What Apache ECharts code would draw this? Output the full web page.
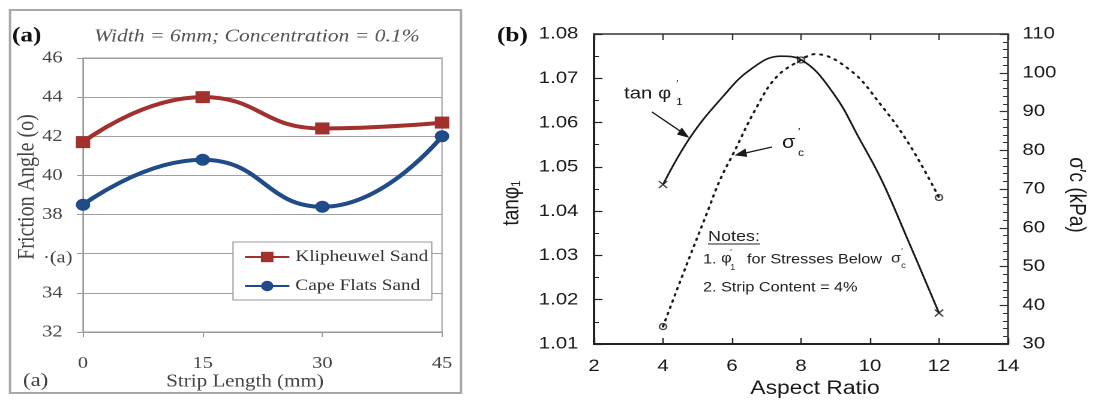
<!DOCTYPE html>
<html>
<head>
<meta charset="utf-8">
<script src="https://cdn.jsdelivr.net/npm/echarts@6/dist/echarts.min.js"></script>
<style>
html,body{margin:0;padding:0;background:#fff;overflow:hidden;}
#wrap{width:1099px;height:401px;overflow:hidden;}
#c{width:916px;height:401px;transform:scaleX(1.2);transform-origin:0 0;}
</style>
</head>
<body>
<div id="wrap"><div id="c"></div></div>
<script>
// ---------- Panel (a) data ----------
const stripLengths = ['0', '15', '30', '45'];
const klipheuwelSand = [41.7, 44.0, 42.4, 42.7];
const capeFlatsSand = [38.5, 40.8, 38.4, 42.0];
const seriesNamesA = ['Klipheuwel Sand', 'Cape Flats Sand'];

// ---------- Panel (b) data ----------
const tanPhiCurve = [[4, 1.046], [4.8, 1.0568], [5.74, 1.0659], [6.52, 1.0719], [7.4, 1.075], [8, 1.0742],
  [8.93, 1.0667], [9.71, 1.0561], [10.35, 1.0468], [11.07, 1.034], [12, 1.017]];
const tanPhiPoints = [[4, 1.046], [8, 1.0742], [12, 1.017]];
const sigmaCurve = [[4, 34.5], [4.59, 48.3], [5.27, 63.7], [5.65, 72.3], [6.04, 79.2], [6.72, 91.2], [7.3, 99.0],
  [8, 103.3], [8.41, 104.8], [9.42, 100.7], [10.29, 92.0], [11.16, 81.2], [12, 67.8]];
const sigmaPoints = [[4, 34.5], [8, 103.3], [12, 67.8]];

const SX = 1.2; // the reference figure is stretched horizontally
const X = px => px / SX;

const SERIF = '"Liberation Serif", serif';
const SANS = '"Liberation Sans", sans-serif';
const RED = '#a2312e';
const BLUE = '#1f4b89';
const INK = '#1a1a1a';

const chart = echarts.init(document.getElementById('c'), null,
  {renderer: 'canvas', width: 916, height: 401, devicePixelRatio: 2});

function txt(x, y, text, size, family, fill, opts) {
  opts = opts || {};
  return {
    type: 'text', x: X(x), y: y, rotation: opts.rotation || 0, silent: true,
    style: {text: text, fontSize: size, fontFamily: family, fontWeight: opts.weight || 'normal',
      fontStyle: opts.style || 'normal', fill: fill || INK,
      textAlign: opts.align || 'left', align: opts.align || 'left',
      textVerticalAlign: 'middle', verticalAlign: 'middle'}
  };
}
function line(x1, y1, x2, y2, w, c) {
  return {type: 'line', silent: true, shape: {x1: X(x1), y1: y1, x2: X(x2), y2: y2}, style: {stroke: c || INK, lineWidth: w || 1.2}};
}
function arrowHead(x1, y1, x2, y2, len, half) {
  const a = Math.atan2(y2 - y1, x2 - x1);
  const bx = x2 - len * Math.cos(a), by = y2 - len * Math.sin(a);
  const px = -Math.sin(a) * half, py = Math.cos(a) * half;
  return {type: 'polygon', silent: true,
    shape: {points: [[X(x2), y2], [X(bx + px), by + py], [X(bx - px), by - py]]},
    style: {fill: INK, stroke: INK, lineWidth: 1}};
}

const crossPath = 'path://M0,0L10,10M10,0L0,10';

const option = {
  animation: false,
  backgroundColor: '#ffffff',
  grid: [
    {left: X(83), top: 58, width: X(359), height: 274, show: true, borderColor: '#9a9a9a', borderWidth: 1, backgroundColor: 'transparent'},
    {left: X(594), top: 34, width: X(414), height: 310, show: true, borderColor: '#333', borderWidth: 1.5, backgroundColor: 'transparent'}
  ],
  legend: {
    data: seriesNamesA,
    orient: 'vertical',
    left: X(233), top: 242,
    padding: [7, 3, 6, 9],
    itemGap: 13,
    itemWidth: 37, itemHeight: 13,
    backgroundColor: '#fff',
    borderColor: '#9a9a9a', borderWidth: 1, borderRadius: 0,
    textStyle: {fontFamily: SERIF, fontSize: 16, color: '#333'}
  },
  xAxis: [
    {
      gridIndex: 0, type: 'category', data: stripLengths, boundaryGap: false,
      axisLine: {show: true, lineStyle: {color: '#9a9a9a', width: 1}},
      axisTick: {show: true, inside: false, length: 5, lineStyle: {color: '#9a9a9a'}},
      axisLabel: {margin: 23, fontFamily: SERIF, fontSize: 17, color: '#444'},
      splitLine: {show: false}
    },
    {
      gridIndex: 1, type: 'value', min: 2, max: 14, interval: 2,
      axisLine: {show: true, onZero: false, lineStyle: {color: '#222', width: 2}},
      axisTick: {show: true, inside: true, length: 6, lineStyle: {color: '#222', width: 1.2}},
      axisLabel: {margin: 14, fontFamily: SANS, fontSize: 17, color: INK},
      splitLine: {show: false}
    },
    {
      gridIndex: 1, type: 'value', position: 'top', min: 2, max: 14, interval: 2,
      axisLine: {show: true, onZero: false, lineStyle: {color: '#555', width: 1.5}},
      axisTick: {show: true, inside: true, length: 6, lineStyle: {color: '#333', width: 1.2}},
      axisLabel: {show: false},
      splitLine: {show: false}
    }
  ],
  yAxis: [
    {
      gridIndex: 0, type: 'value', min: 32, max: 46, interval: 2,
      axisLine: {show: true, lineStyle: {color: '#9a9a9a', width: 1}},
      axisTick: {show: true, inside: false, length: 5, lineStyle: {color: '#9a9a9a'}},
      axisLabel: {margin: 17, fontFamily: SERIF, fontSize: 17, color: '#444',
        formatter: v => (v === 36 ? '' : String(v))},
      splitLine: {show: true, lineStyle: {color: '#a0a0a0', width: 1}}
    },
    {
      gridIndex: 1, type: 'value', min: 1.01, max: 1.08, interval: 0.01,
      axisLine: {show: true, onZero: false, lineStyle: {color: '#222', width: 2}},
      axisTick: {show: true, inside: true, length: 7, lineStyle: {color: '#222', width: 1.2}},
      minorTick: {show: true, splitNumber: 2, length: 4, lineStyle: {color: '#222', width: 1}},
      axisLabel: {margin: 13, fontFamily: SANS, fontSize: 17, color: INK, formatter: v => v.toFixed(2)},
      splitLine: {show: false}
    },
    {
      gridIndex: 1, type: 'value', position: 'right', min: 30, max: 110, interval: 10,
      axisLine: {show: true, onZero: false, lineStyle: {color: '#444', width: 1.5}},
      axisTick: {show: true, inside: true, length: 7, lineStyle: {color: '#333', width: 1.2}},
      minorTick: {show: true, splitNumber: 5, length: 4, lineStyle: {color: '#333', width: 1}},
      axisLabel: {margin: 12, fontFamily: SANS, fontSize: 17, color: INK},
      splitLine: {show: false}
    }
  ],
  series: [
    {
      name: seriesNamesA[0], type: 'line', xAxisIndex: 0, yAxisIndex: 0, data: klipheuwelSand,
      smooth: 0.5, symbol: 'rect', symbolSize: 12, showAllSymbol: true,
      lineStyle: {color: RED, width: 4}, itemStyle: {color: RED}, z: 3
    },
    {
      name: seriesNamesA[1], type: 'line', xAxisIndex: 0, yAxisIndex: 0, data: capeFlatsSand,
      smooth: 0.5, symbol: 'circle', symbolSize: 12, showAllSymbol: true,
      lineStyle: {color: BLUE, width: 4}, itemStyle: {color: BLUE}, z: 4
    },
    {
      name: 'tanphi', type: 'line', xAxisIndex: 1, yAxisIndex: 1, data: tanPhiCurve,
      smooth: 0.4, symbol: 'none', lineStyle: {color: INK, width: 1.6}
    },
    {
      name: 'tanphi pts', type: 'scatter', xAxisIndex: 1, yAxisIndex: 1, data: tanPhiPoints,
      symbol: crossPath, symbolSize: 7, itemStyle: {color: 'none', borderColor: INK, borderWidth: 1.3}
    },
    {
      name: 'sigma', type: 'line', xAxisIndex: 1, yAxisIndex: 2, data: sigmaCurve,
      smooth: 0.4, symbol: 'none', lineStyle: {color: INK, width: 2, type: [1.5, 5], cap: 'round'}
    },
    {
      name: 'sigma pts', type: 'scatter', xAxisIndex: 1, yAxisIndex: 2, data: sigmaPoints,
      symbol: 'circle', symbolSize: 6, itemStyle: {color: '#fff', borderColor: INK, borderWidth: 1.3}
    }
  ],
  graphic: [
    // Panel (a) frame and texts
    {type: 'rect', silent: true, z: -1, shape: {x: X(10), y: 10, width: X(451), height: 383},
      style: {fill: 'none', stroke: '#a8a8a8', lineWidth: 2}},
    txt(12, 36, '(a)', 21, SERIF, '#111', {weight: 'bold'}),
    txt(257, 37, 'Width = 6mm; Concentration = 0.1%', 18, SERIF, '#555', {style: 'italic', align: 'center'}),
    txt(27, 187, 'Friction Angle (o)', 20, SERIF, '#444', {align: 'center', rotation: Math.PI / 2}),
    txt(43, 258, '·(a)', 17, SERIF, '#444'),
    txt(245, 382, 'Strip Length (mm)', 17.5, SERIF, '#444', {align: 'center'}),
    txt(23, 381, '(a)', 19, SERIF, '#444'),

    // Panel (b) texts
    txt(497, 36, '(b)', 21, SERIF, '#111', {weight: 'bold'}),
    txt(512, 203, 'tanφ₁', 19, SANS, INK, {align: 'center', rotation: Math.PI / 2}),
    txt(1076, 195, 'σ′c (kPa)', 19, SANS, INK, {align: 'center', rotation: -Math.PI / 2}),
    txt(815, 389, 'Aspect Ratio', 19, SANS, INK, {align: 'center'}),

    txt(624, 94, 'tan φ', 17, SANS, INK),
    txt(676, 84, '′', 10, SANS, INK),
    txt(676, 102, '1', 10, SANS, INK),
    line(652, 112, 683, 133, 1.2),
    arrowHead(652, 112, 688, 137, 10, 3.5),

    txt(782, 143, 'σ', 18, SANS, INK),
    txt(798, 132, '′', 10, SANS, INK),
    txt(798, 153, 'c', 10, SANS, INK),
    line(772, 147, 741, 154, 1.2),
    arrowHead(772, 147, 736, 155, 10, 3.5),

    txt(708, 237, 'Notes:', 15, SANS, '#222'),
    line(708, 244, 760, 244, 1, '#222'),
    txt(703, 260, '1.', 13.5, SANS, '#222'),
    txt(721, 259, 'φ', 13.5, SANS, '#222'),
    txt(730, 253, '′', 8, SANS, '#222'),
    txt(730, 268, '1', 8, SANS, '#222'),
    txt(747, 260, 'for Stresses Below', 13.5, SANS, '#222'),
    txt(891, 259, 'σ', 13.5, SANS, '#222'),
    txt(901, 252, '′', 8, SANS, '#222'),
    txt(901, 266, 'c', 8, SANS, '#222'),
    txt(703, 288, '2. Strip Content = 4%', 13.5, SANS, '#222')
  ]
};
chart.setOption(option);
</script>
</body>
</html>
